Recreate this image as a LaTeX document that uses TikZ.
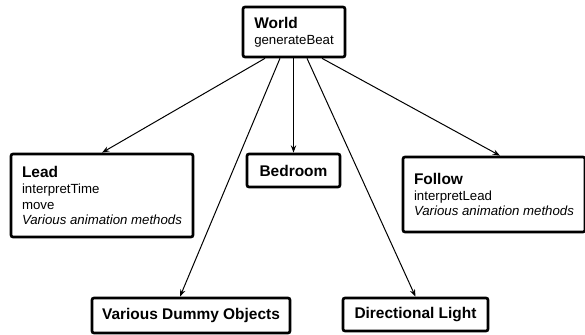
\documentclass[tikz,border=0pt]{standalone}
\usepackage{fontspec}
\setmainfont{Liberation Sans}
\usetikzlibrary{arrows.meta}

\tikzset{
  classbox/.style={draw, line width=0.08cm, rounded corners=0.06cm, align=left, inner sep=0pt},
  link/.style={line width=0.03cm, -{Stealth[length=0.22cm, width=0.16cm]}}
}
\newcommand{\cname}[1]{{\fontsize{13.2pt}{16pt}\selectfont\bfseries #1}}

\begin{document}
\begin{tikzpicture}[x=0.03cm, y=-0.03cm, font=\fontsize{11.3pt}{13.6pt}\selectfont]

	\useasboundingbox (0,0) rectangle (585,335);

	% root
	\node[classbox, minimum width=3.06cm, minimum height=1.5cm] (world) at (294,32) {\cname{World}\\generateBeat};

	% middle row
	\node[classbox, minimum width=5.46cm, minimum height=2.49cm] (lead) at (102,195.5)
		{\cname{Lead}\\interpretTime\\move\\\textit{Various animation methods}};
	\node[classbox, minimum width=2.79cm, minimum height=0.99cm] (bedroom) at (293.5,170.5) {\cname{Bedroom}};
	\node[classbox, minimum width=5.46cm, minimum height=2.25cm] (follow) at (494,194.5)
		{\cname{Follow}\\interpretLead\\\textit{Various animation methods}};

	% bottom row
	\node[classbox, minimum width=5.94cm, minimum height=1.05cm] (dummy) at (191,315.5) {\cname{Various Dummy Objects}};
	\node[classbox, minimum width=4.35cm, minimum height=0.99cm] (light) at (415.5,314.5) {\cname{Directional Light}};

	% links from World
	\draw[link] ([xshift=-0.87cm]world.south) -- (lead.north);
	\draw[link] ([xshift=-0.42cm]world.south) -- ([xshift=-0.33cm]dummy.north);
	\draw[link] (bedroom.north |- world.south) -- (bedroom.north);
	\draw[link] ([xshift=0.39cm]world.south) -- (light.north);
	\draw[link] ([xshift=0.84cm]world.south) -- ([xshift=0.18cm]follow.north);

\end{tikzpicture}
\end{document}
